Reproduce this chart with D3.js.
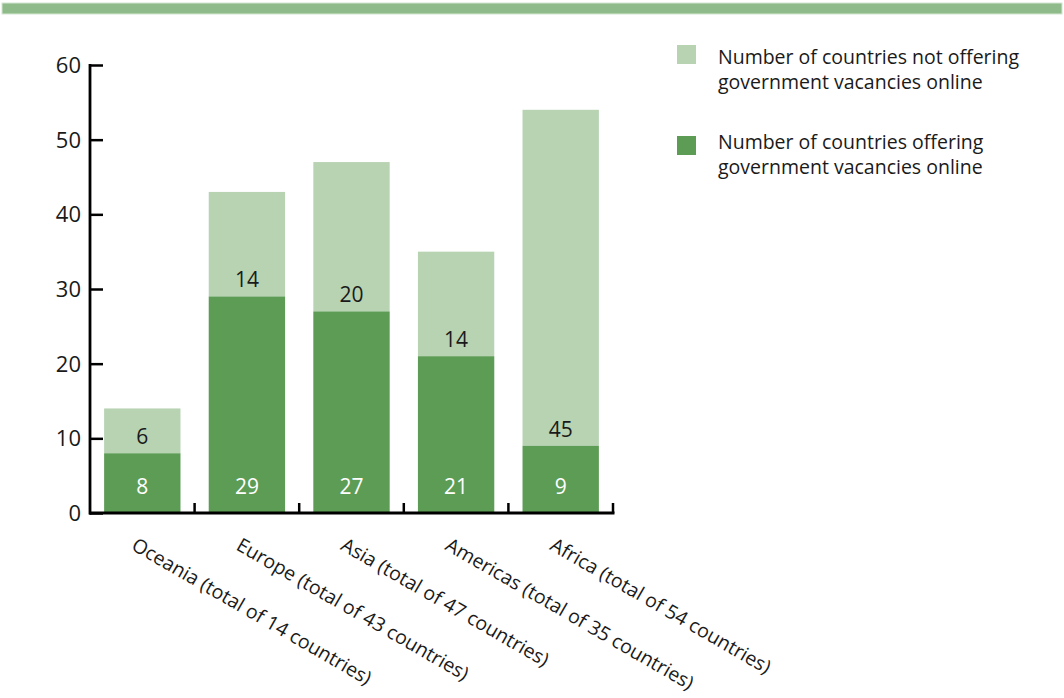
<!DOCTYPE html>
<html><head><meta charset="utf-8">
<script src="https://cdn.jsdelivr.net/npm/d3@7"></script>
<style>body{margin:0;background:#fff;} svg{display:block;font-family:"Open Sans","Noto Sans",sans-serif;}</style>
</head><body>
<svg id="c" width="1064" height="698"></svg>
<script>
const categories = ["Oceania (total of 14 countries)","Europe (total of 43 countries)","Asia (total of 47 countries)","Americas (total of 35 countries)","Africa (total of 54 countries)"];
const offering = [8,29,27,21,9];
const notOffering = [6,14,20,14,45];
const yTicks = [0,10,20,30,40,50,60];
const legendLabels = [["Number of countries not offering","government vacancies online"],["Number of countries offering","government vacancies online"]];
const colLight = "#b7d3b2", colDark = "#5c9c55";

const svg = d3.select("#c");
// top band
svg.append("rect").attr("x",2).attr("y",3).attr("width",1060).attr("height",11).attr("fill","#8fbb8a").attr("stroke","#d4e6d1").attr("stroke-width",1);

const y = d3.scaleLinear().domain([0,60]).range([513,65]);
const x = d3.scaleBand().domain(categories).range([90,613]).paddingInner(0.27).paddingOuter(0.135);
const bw = x.bandwidth(), gap = (x.step()-bw)/2;

const g = svg.append("g");
categories.forEach((c,i)=>{
  const x0 = x(c);
  g.append("rect").attr("x",x0).attr("width",bw).attr("y",y(offering[i]+notOffering[i])).attr("height",y(offering[i])-y(offering[i]+notOffering[i])).attr("fill",colLight);
  g.append("rect").attr("x",x0).attr("width",bw).attr("y",y(offering[i])).attr("height",y(0)-y(offering[i])).attr("fill",colDark);
  g.append("text").attr("x",x0+bw/2).attr("y",y(offering[i])-9).attr("text-anchor","middle").attr("font-size",21).attr("fill","#1a1a1a").text(notOffering[i]);
  g.append("text").attr("x",x0+bw/2).attr("y",y(0)-19).attr("text-anchor","middle").attr("font-size",21).attr("fill","#fff").text(offering[i]);
});

// y axis
const ya = svg.append("g").attr("transform","translate(90,0)")
  .call(d3.axisRight(y).tickValues(yTicks).tickSize(13).tickFormat(""));
ya.select(".domain").remove();
ya.selectAll(".tick line").attr("stroke","#000").attr("stroke-width",2.5);
svg.append("line").attr("x1",90).attr("x2",90).attr("y1",y(60)-1).attr("y2",y(0)+1.5).attr("stroke","#000").attr("stroke-width",2.8);
yTicks.forEach(t=>{
  svg.append("text").attr("x",81).attr("y",y(t)).attr("dy","0.36em").attr("text-anchor","end").attr("font-size",22).attr("fill","#1a1a1a").text(t);
});

// x axis
svg.append("line").attr("x1",89).attr("x2",614.5).attr("y1",y(0)).attr("y2",y(0)).attr("stroke","#000").attr("stroke-width",2.8);
categories.forEach(c=>{
  const xt = x(c)+bw+gap;
  svg.append("line").attr("x1",xt).attr("x2",xt).attr("y1",y(0)).attr("y2",y(0)-10).attr("stroke","#000").attr("stroke-width",2.5);
  svg.append("text").attr("transform",`translate(${x(c)+bw/2-12},${y(0)+36}) rotate(30)`).attr("font-size",19.5).attr("fill","#1a1a1a").text(c);
});

// legend
const lg = svg.append("g");
const legSquareY = [45,136], legTextY = [64,149];
[colLight,colDark].forEach((col,i)=>{
  lg.append("rect").attr("x",677).attr("y",legSquareY[i]).attr("width",19).attr("height",19).attr("fill",col);
  legendLabels[i].forEach((t,j)=>{
    lg.append("text").attr("x",718).attr("y",legTextY[i]+j*24.5).attr("font-size",19.5).attr("fill","#1a1a1a").text(t);
  });
});
</script>
</body></html>
